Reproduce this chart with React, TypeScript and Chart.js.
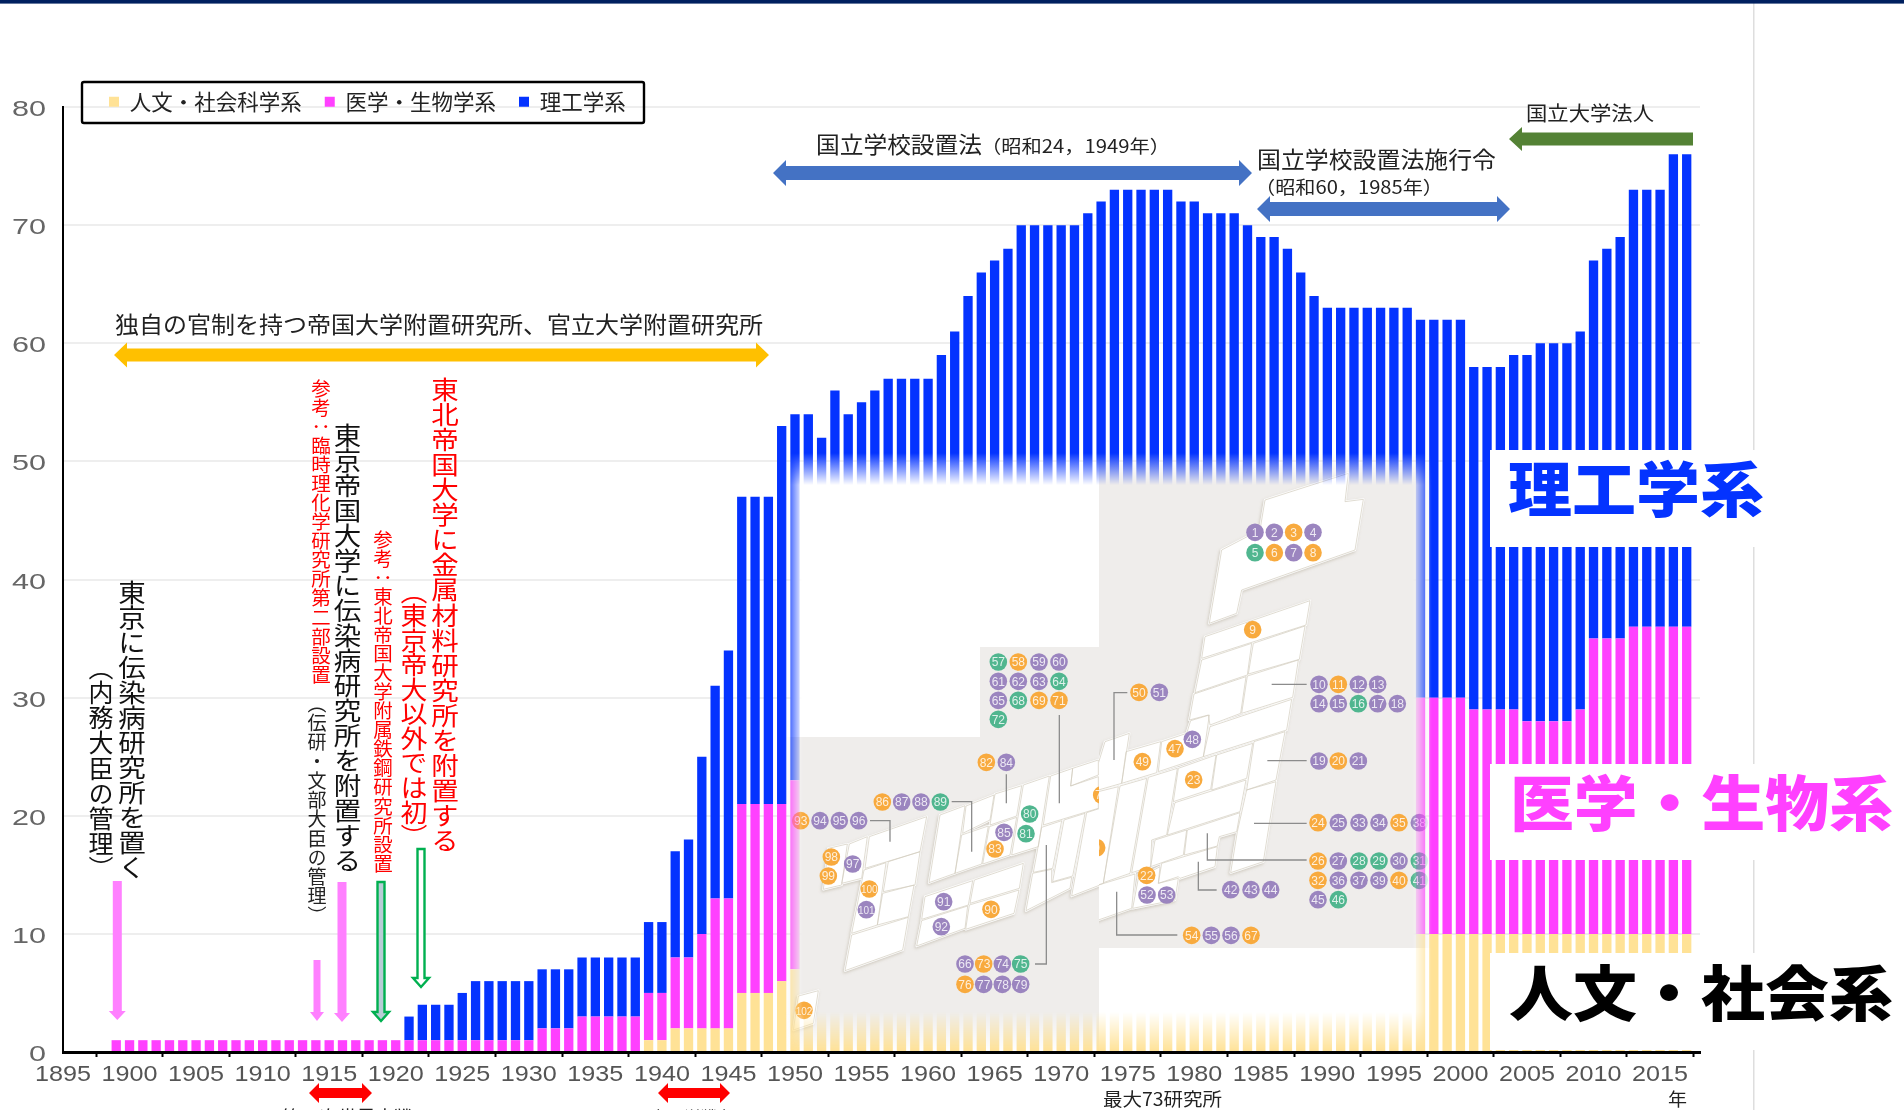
import React, { useEffect, useRef } from "react";
import { Chart, registerables } from "chart.js";

Chart.register(...registerables);

// ---- data (years 1895..2018; one value per year) ----
const years: string[] = Array.from({ length: 124 }, (_, i) => String(1895 + i));
const seriesNames = ["人文・社会科学系", "医学・生物学系", "理工学系"];
const seriesColors = ["#ffe296", "#ff40ff", "#0433ff"];

const humanities: number[] = [
  0, 0, 0, 0, 0, // 1895-99
  0, 0, 0, 0, 0, 0, 0, 0, 0, 0, // 1900-09
  0, 0, 0, 0, 0, 0, 0, 0, 0, 0, // 1910-19
  0, 0, 0, 0, 0, 0, 0, 0, 0, 0, // 1920-29
  0, 0, 0, 0, 0, 0, 0, 0, 0, 1, // 1930-39
  1, 2, 2, 2, 2, 2, 5, 5, 5, 6, // 1940-49
  7, 7, 7, 7, 7, 7, 7, 7, 8, 8, // 1950-59
  8, 8, 8, 8, 8, 8, 8, 8, 8, 8, // 1960-69
  9, 9, 9, 9, 9, 9, 9, 9, 9, 9, // 1970-79
  9, 9, 9, 9, 9, 9, 9, 9, 9, 9, // 1980-89
  9, 10, 10, 10, 10, 10, 10, 10, 10, 10, // 1990-99
  10, 10, 10, 10, 10, 10, 10, 10, 10, 10, // 2000-09
  10, 10, 10, 10, 10, 10, 10, 10, 0, // 2010-18
];
const medical: number[] = [
  0, 0, 0, 0, 1, // 1895-99
  1, 1, 1, 1, 1, 1, 1, 1, 1, 1, // 1900-09
  1, 1, 1, 1, 1, 1, 1, 1, 1, 1, // 1910-19
  1, 1, 1, 1, 1, 1, 1, 1, 1, 1, // 1920-29
  1, 2, 2, 2, 3, 3, 3, 3, 3, 4, // 1930-39
  4, 6, 6, 8, 11, 11, 16, 16, 16, 15, // 1940-49
  16, 16, 16, 16, 16, 17, 17, 17, 17, 17, // 1950-59
  17, 18, 18, 19, 19, 19, 20, 20, 21, 21, // 1960-69
  20, 20, 20, 21, 21, 21, 21, 21, 21, 21, // 1970-79
  21, 21, 21, 21, 21, 21, 21, 21, 21, 21, // 1980-89
  21, 20, 20, 20, 20, 20, 20, 20, 20, 20, // 1990-99
  20, 19, 19, 19, 19, 18, 18, 18, 18, 19, // 2000-09
  25, 25, 25, 26, 26, 26, 26, 26, 0, // 2010-18
];
const engineering: number[] = [
  0, 0, 0, 0, 0, // 1895-99
  0, 0, 0, 0, 0, 0, 0, 0, 0, 0, // 1900-09
  0, 0, 0, 0, 0, 0, 0, 0, 0, 0, // 1910-19
  0, 2, 3, 3, 3, 4, 5, 5, 5, 5, // 1920-29
  5, 5, 5, 5, 5, 5, 5, 5, 5, 6, // 1930-39
  6, 9, 10, 15, 18, 21, 26, 26, 26, 32, // 1940-49
  31, 31, 29, 33, 31, 31, 32, 33, 32, 32, // 1950-59
  32, 33, 35, 37, 39, 40, 40, 42, 41, 41, // 1960-69
  41, 41, 42, 42, 43, 43, 43, 43, 43, 42, // 1970-79
  42, 41, 41, 41, 40, 39, 39, 38, 36, 34, // 1980-89
  33, 33, 33, 33, 33, 33, 33, 32, 32, 32, // 1990-99
  32, 29, 29, 29, 30, 31, 32, 32, 32, 32, // 2000-09
  32, 33, 34, 37, 37, 37, 40, 40, 0, // 2010-18
];

const yMax = 80;
const yStep = 10;
const tickEvery = 5;

// ---- fonts ----
const CJK = "'Noto Sans CJK JP', sans-serif";
const LATIN = "'Liberation Sans', Arial, sans-serif";

// ---- decoration helpers (annotation shapes & the map picture over the chart) ----
const pts = (a: number[][]) => a.map((p) => p.join(",")).join(" ");
function hArrow(x1: number, x2: number, cy: number, shaft: number, head: number, len: number, right = true, left = true) {
  const s = shaft / 2, h = head / 2;
  const a: number[][] = [];
  if (left) a.push([x1, cy], [x1 + len, cy - h], [x1 + len, cy - s]);
  else a.push([x1, cy - s]);
  if (right) a.push([x2 - len, cy - s], [x2 - len, cy - h], [x2, cy], [x2 - len, cy + h], [x2 - len, cy + s]);
  else a.push([x2, cy - s], [x2, cy + s]);
  if (left) a.push([x1 + len, cy + s], [x1 + len, cy + h]);
  else a.push([x1, cy + s]);
  return pts(a);
}
function vArrow(cx: number, y1: number, y2: number, shaft: number, head: number, len: number) {
  const s = shaft / 2, h = head / 2;
  return pts([[cx - s, y1], [cx + s, y1], [cx + s, y2 - len], [cx + h, y2 - len], [cx, y2], [cx - h, y2 - len], [cx - s, y2 - len]]);
}

const Z6 = (a: number[]) => pts(a.reduce((o: number[][], v, i) => { if (i % 2 === 0) o.push([790 + v / 3, 640 + a[i + 1] / 3]); return o; }, []));
const Z7 = (a: number[]) => pts(a.reduce((o: number[][], v, i) => { if (i % 2 === 0) o.push([1090 + v / 3, 470 + a[i + 1] / 3]); return o; }, []));

const islandsLeft: number[][] = [
  [115, 625, 172, 612, 155, 735, 100, 748],
  [178, 612, 232, 590, 215, 715, 155, 730],
  [238, 590, 410, 530, 390, 635, 225, 685],
  [222, 690, 288, 668, 262, 855, 185, 880],
  [295, 665, 390, 635, 375, 735, 280, 755],
  [278, 760, 372, 735, 355, 830, 262, 855],
  [185, 885, 355, 832, 338, 930, 165, 992],
  [405, 770, 548, 722, 535, 795, 395, 838],
  [395, 842, 533, 798, 525, 865, 380, 918],
  [553, 720, 700, 670, 688, 745, 540, 790],
  [538, 795, 687, 750, 672, 820, 527, 868],
  [450, 525, 525, 497, 495, 700, 417, 728],
  [528, 498, 612, 465, 600, 540, 518, 580],
  [515, 585, 595, 558, 575, 672, 495, 700],
  [615, 462, 695, 437, 680, 528, 600, 555],
  [598, 560, 680, 532, 660, 645, 578, 672],
  [700, 435, 778, 408, 745, 620, 665, 645],
  [782, 408, 848, 385, 842, 438, 925, 410, 925, 505, 760, 555],
  [848, 385, 925, 360, 925, 405, 842, 438],
  [755, 562, 815, 542, 788, 685, 730, 697],
  [822, 540, 885, 520, 848, 708, 788, 725],
  [890, 518, 930, 505, 930, 735, 845, 768],
  [728, 700, 785, 688, 785, 728, 845, 712, 840, 745, 708, 812],
  [25, 1068, 85, 1052, 70, 1150, 10, 1170],
];
const islandsRight: number[][] = [
  [525, 90, 775, 10, 765, 95, 820, 88, 795, 240, 455, 360, 440, 430, 358, 460, 395, 240, 510, 180],
  [345, 500, 660, 392, 648, 465, 335, 565],
  [335, 570, 485, 520, 472, 615, 315, 668],
  [490, 520, 645, 468, 628, 568, 475, 612],
  [312, 672, 468, 620, 452, 730, 360, 765, 355, 735, 298, 750],
  [472, 618, 625, 570, 608, 682, 455, 730],
  [360, 770, 605, 688, 590, 780, 340, 860],
  [492, 815, 585, 785, 558, 930, 470, 960],
  [380, 855, 488, 820, 470, 925, 365, 960],
  [265, 895, 378, 855, 362, 958, 250, 995],
  [302, 752, 358, 735, 340, 860, 205, 905, 215, 815, 290, 790],
  [108, 845, 212, 815, 200, 908, 95, 940],
  [45, 815, 118, 790, 95, 940, 25, 960, 25, 880],
  [25, 965, 85, 950, 40, 1240, 25, 1245],
  [90, 948, 170, 925, 120, 1210, 40, 1238],
  [175, 922, 262, 895, 230, 1095, 185, 1110, 182, 1190, 125, 1208],
  [255, 998, 468, 930, 450, 1025, 232, 1095],
  [470, 960, 558, 935, 520, 1175, 422, 1208, 442, 1085],
  [292, 1080, 450, 1028, 440, 1085, 388, 1100, 382, 1128, 283, 1155],
  [195, 1110, 290, 1080, 280, 1155, 182, 1190],
  [215, 1180, 382, 1130, 375, 1190, 270, 1225, 265, 1220, 205, 1240],
  [145, 1225, 210, 1190, 205, 1240, 265, 1225, 255, 1290, 128, 1315],
  [25, 1245, 135, 1212, 125, 1315, 25, 1350],
];
const leadersLeft: number[][] = [
  [808, 225, 808, 490],
  [649, 403, 649, 490],
  [485, 485, 545, 485, 545, 635],
  [240, 542, 300, 542, 300, 605],
  [735, 972, 769, 972, 769, 615],
];
const leadersRight: number[][] = [
  [545, 643, 650, 643],
  [532, 872, 650, 872],
  [492, 1060, 650, 1060],
  [352, 1090, 352, 1170, 650, 1170],
  [325, 1175, 325, 1260, 380, 1260],
  [80, 1265, 80, 1395, 262, 1395],
  [72, 870, 72, 668, 112, 668],
];
const P = "#9b85bf", O = "#f8aa3e", G = "#50b68f";
type Dot = [string, number, number, string];
const dotsLeft: Dot[] = [
  ["57", 625, 66, G], ["58", 685, 66, O], ["59", 747, 66, P], ["60", 807, 66, P],
  ["61", 625, 124, P], ["62", 685, 124, P], ["63", 747, 124, P], ["64", 807, 124, G],
  ["65", 625, 181, P], ["68", 685, 181, G], ["69", 747, 181, O], ["71", 807, 181, O], ["72", 625, 238, G],
  ["82", 589, 367, O], ["84", 649, 367, P],
  ["86", 277, 486, O], ["87", 335, 486, P], ["88", 393, 486, P], ["89", 451, 486, G],
  ["93", 32, 542, O], ["94", 90, 542, P], ["95", 148, 542, P], ["96", 206, 542, P],
  ["98", 124, 651, O], ["99", 115, 708, O], ["97", 188, 672, P], ["100", 238, 747, O], ["101", 229, 809, P],
  ["91", 461, 785, P], ["92", 454, 860, P], ["90", 603, 808, O],
  ["80", 719, 522, G], ["81", 708, 581, G], ["85", 642, 577, P], ["83", 615, 627, O],
  ["66", 525, 972, P], ["73", 581, 972, O], ["74", 637, 972, P], ["75", 692, 972, G],
  ["76", 525, 1033, O], ["77", 581, 1033, P], ["78", 637, 1033, P], ["79", 692, 1033, P],
  ["102", 42, 1111, O], ["70", 935, 465, O],
];
const dotsRight: Dot[] = [
  ["1", 495, 187, P], ["2", 553, 187, P], ["3", 611, 187, O], ["4", 669, 187, P],
  ["5", 495, 248, G], ["6", 553, 248, O], ["7", 611, 248, P], ["8", 669, 248, O], ["9", 488, 479, O],
  ["10", 687, 643, P], ["11", 745, 643, O], ["12", 805, 643, P], ["13", 863, 643, P],
  ["14", 687, 701, P], ["15", 745, 701, P], ["16", 805, 701, G], ["17", 863, 701, P], ["18", 922, 701, P],
  ["19", 687, 873, P], ["20", 745, 873, O], ["21", 805, 873, P],
  ["24", 684, 1058, O], ["25", 745, 1058, P], ["33", 807, 1058, P], ["34", 867, 1058, P], ["35", 927, 1058, O], ["38", 988, 1058, P],
  ["26", 684, 1173, O], ["27", 745, 1173, P], ["28", 807, 1173, G], ["29", 867, 1173, G], ["30", 927, 1173, P], ["31", 988, 1173, G],
  ["32", 684, 1231, O], ["36", 745, 1231, P], ["37", 807, 1231, P], ["39", 867, 1231, P], ["40", 927, 1231, O], ["41", 988, 1231, G],
  ["45", 684, 1289, P], ["46", 745, 1289, G],
  ["23", 311, 929, O], ["47", 255, 836, O], ["48", 307, 808, P], ["49", 157, 875, O], ["50", 147, 667, O], ["51", 208, 667, P],
  ["22", 170, 1216, O], ["52", 171, 1275, P], ["53", 230, 1275, P],
  ["42", 422, 1259, P], ["43", 483, 1259, P], ["44", 542, 1259, P],
  ["54", 305, 1396, O], ["55", 364, 1396, P], ["56", 423, 1396, P], ["67", 483, 1396, O],
  ["0", 20, 1133, O],
];

function Dots({ list, ox, oy }: { list: Dot[]; ox: number; oy: number }) {
  return (
    <g>
      {list.map(([n, X, Y, c]) => (
        <g key={n + X}>
          <circle cx={ox + X / 3} cy={oy + Y / 3} r={8.8} fill={c} />
          <text x={ox + X / 3} y={oy + Y / 3 + 4.2} textAnchor="middle" fontSize={n.length > 2 ? 10 : 12} fontFamily={LATIN} fill="#fff" fillOpacity={0.82}>{n}</text>
        </g>
      ))}
    </g>
  );
}

function VText({ x, y, len, size, fill, children }: { x: number; y: number; len: number; size: number; fill: string; children: string }) {
  return (
    <text x={x} y={y} textLength={len} lengthAdjust="spacingAndGlyphs" fontSize={size} fontFamily={CJK} fill={fill}
      style={{ writingMode: "vertical-rl" as any }}>{children}</text>
  );
}
function HText({ x, y, len, size, fill = "#222", weight = 400, children }: { x: number; y: number; len: number; size: number; fill?: string; weight?: number; children: string }) {
  return (
    <text x={x} y={y} textLength={len} lengthAdjust="spacingAndGlyphs" fontSize={size} fontWeight={weight} fontFamily={CJK} fill={fill}>{children}</text>
  );
}

function Overlay() {
  return (
    <svg width={1904} height={1110} viewBox="0 0 1904 1110" style={{ position: "absolute", left: 0, top: 0, pointerEvents: "none" }}>
      <defs>
        <linearGradient id="gh" gradientUnits="userSpaceOnUse" x1={785} x2={1432} y1={0} y2={0}>
          <stop offset={0} stopColor="#fff" stopOpacity={0} />
          <stop offset={0.0278} stopColor="#fff" />
          <stop offset={0.969} stopColor="#fff" />
          <stop offset={1} stopColor="#fff" stopOpacity={0} />
        </linearGradient>
        <linearGradient id="gv" gradientUnits="userSpaceOnUse" x1={0} x2={0} y1={453} y2={1052}>
          <stop offset={0} stopColor="#fff" stopOpacity={0} />
          <stop offset={0.0534} stopColor="#fff" />
          <stop offset={0.933} stopColor="#fff" />
          <stop offset={1} stopColor="#fff" stopOpacity={0} />
        </linearGradient>
        <mask id="mh" maskUnits="userSpaceOnUse" x={780} y={450} width={670} height={610}><rect x={780} y={450} width={670} height={610} fill="url(#gh)" /></mask>
        <mask id="mv" maskUnits="userSpaceOnUse" x={780} y={450} width={670} height={610}><rect x={780} y={450} width={670} height={610} fill="url(#gv)" /></mask>
        <clipPath id="cl"><rect x={780} y={450} width={319} height={610} /></clipPath>
        <clipPath id="cr"><rect x={1099} y={450} width={340} height={610} /></clipPath>
        <filter id="sh" x="-10%" y="-10%" width="120%" height="120%"><feDropShadow dx={-1} dy={1.5} stdDeviation={1.6} floodColor="#9a8f75" floodOpacity={0.4} /></filter>
      </defs>

      {/* vertical page rule and top band */}
      <rect x={1753} y={0} width={1.5} height={1110} fill="#dedede" />
      <rect x={0} y={0} width={1904} height={3.6} fill="#00205f" />

      {/* map picture fading over the bars */}
      <g mask="url(#mh)">
        <g mask="url(#mv)">
          <rect x={780} y={450} width={670} height={610} fill="#fff" />
          <polygon points="780,737 980,737 980,647 1099,647 1099,1060 780,1060" fill="#efedeb" />
          <rect x={1099} y={450} width={340} height={498} fill="#efedeb" />
          <g clipPath="url(#cl)">
            <g filter="url(#sh)">
              {islandsLeft.map((p, i) => <polygon key={i} points={Z6(p)} fill="#fff" stroke="#fff" strokeWidth={2.2} strokeLinejoin="round" />)}
            </g>
            {islandsLeft.map((p, i) => <polygon key={i} points={Z6(p)} fill="none" stroke="#d3cdbf" strokeWidth={0.7} />)}
            {leadersLeft.map((p, i) => <polyline key={i} points={Z6(p)} fill="none" stroke="#8c8c8c" strokeWidth={1.3} />)}
            <Dots list={dotsLeft} ox={790} oy={640} />
          </g>
          <g clipPath="url(#cr)">
            <g filter="url(#sh)">
              {islandsRight.map((p, i) => <polygon key={i} points={Z7(p)} fill="#fff" stroke="#fff" strokeWidth={2.2} strokeLinejoin="round" />)}
            </g>
            {islandsRight.map((p, i) => <polygon key={i} points={Z7(p)} fill="none" stroke="#d3cdbf" strokeWidth={0.7} />)}
            {leadersRight.map((p, i) => <polyline key={i} points={Z7(p)} fill="none" stroke="#8c8c8c" strokeWidth={1.3} />)}
            <Dots list={dotsRight} ox={1090} oy={470} />
          </g>
        </g>
      </g>

      {/* white label panels with the big category names */}
      <rect x={1490} y={450} width={414} height={97} fill="#fff" />
      <rect x={1490} y={764} width={414} height={96} fill="#fff" />
      <rect x={1490} y={953} width={414} height={97} fill="#fff" />
      <HText x={1508} y={512} len={256} size={60} weight={900} fill="#0433ff">理工学系</HText>
      <HText x={1510} y={826} len={383} size={60} weight={900} fill="#ff40ff">医学・生物系</HText>
      <HText x={1509} y={1016} len={384} size={60} weight={900} fill="#000">人文・社会系</HText>

      {/* legend frame */}
      <rect x={82} y={82} width={562} height={41} rx={2} fill="none" stroke="#000" strokeWidth={2.4} />

      {/* horizontal arrows */}
      <polygon points={hArrow(114, 769, 355, 13, 25, 13)} fill="#ffc000" />
      <polygon points={hArrow(773, 1252, 173, 14, 26, 13)} fill="#4472c4" />
      <polygon points={hArrow(1257, 1510, 209, 14, 26, 13)} fill="#4472c4" />
      <polygon points={hArrow(1509, 1693, 139, 13, 24, 13, false, true)} fill="#548235" />
      <polygon points={hArrow(309, 372, 1093, 10, 20, 10)} fill="#ff0000" />
      <polygon points={hArrow(658, 730, 1093, 10, 20, 10)} fill="#ff0000" />

      {/* vertical arrows */}
      <polygon points={vArrow(117.3, 881, 1020, 9, 17, 9)} fill="#ff80ff" />
      <polygon points={vArrow(317, 960, 1021, 7, 14, 9)} fill="#ff80ff" />
      <polygon points={vArrow(342, 882, 1022, 9, 16, 9)} fill="#ff80ff" />
      <polygon points={vArrow(381, 882, 1021, 7, 16, 9)} fill="#b8cdd6" stroke="#00b050" strokeWidth={2.4} />
      <polygon points={vArrow(421, 849, 987, 7, 16, 9)} fill="#fff" stroke="#00b050" strokeWidth={2.4} />

      {/* horizontal annotations */}
      <HText x={115} y={333} len={648} size={23}>独自の官制を持つ帝国大学附置研究所、官立大学附置研究所</HText>
      <HText x={816} y={153} len={166} size={23}>国立学校設置法</HText>
      <HText x={981} y={153} len={189} size={18}>（昭和24，1949年）</HText>
      <HText x={1257} y={168} len={239} size={23}>国立学校設置法施行令</HText>
      <HText x={1255} y={194} len={188} size={18}>（昭和60，1985年）</HText>
      <HText x={1526} y={121} len={128} size={20}>国立大学法人</HText>
      <HText x={282} y={1124} len={131} size={18}>第一次世界大戦</HText>
      <HText x={650} y={1124} len={85} size={17}>太平洋戦争</HText>
      <HText x={1103} y={1106} len={119} size={18}>最大73研究所</HText>
      <HText x={1668} y={1106} len={19} size={18}>年</HText>

      {/* vertical annotations */}
      <VText x={132} y={580} len={300} size={27.5} fill="#111">東京に伝染病研究所を置く</VText>
      <VText x={101} y={655} len={226} size={25} fill="#111">（内務大臣の管理）</VText>
      <VText x={347.5} y={423} len={450} size={27.5} fill="#111">東京帝国大学に伝染病研究所を附置する</VText>
      <VText x={317} y={694} len={231} size={19} fill="#222">（伝研・文部大臣の管理）</VText>
      <VText x={321} y={379} len={305} size={19.5} fill="#ff0000">参考：臨時理化学研究所第二部設置</VText>
      <VText x={383} y={530} len={343} size={19.5} fill="#ff0000">参考：東北帝国大学附属鉄鋼研究所設置</VText>
      <VText x={445} y={377} len={476} size={27.5} fill="#ff0000">東北帝国大学に金属材料研究所を附置する</VText>
      <VText x={414} y={579} len={270} size={27} fill="#ff0000">（東京帝大以外では初）</VText>
    </svg>
  );
}

// Tick labels in the reference are horizontally stretched; draw the scale's own label items with an x-stretch.
function stretchLabels(scale: any, k: number, baseline: (y: number) => number) {
  scale.drawLabels = function () {
    const ctx = this.ctx;
    const area = this.chart.chartArea;
    for (const item of this.getLabelItems(area)) {
      const [tx, ty] = item.options.translation;
      ctx.save();
      ctx.translate(tx, baseline(ty));
      ctx.scale(k, 1);
      ctx.font = item.font.string;
      ctx.fillStyle = item.options.color;
      ctx.textAlign = item.options.textAlign;
      ctx.textBaseline = "alphabetic";
      ctx.fillText(String(item.label), 0, 0);
      ctx.restore();
    }
  };
}

const layoutTweaks = {
  id: "layoutTweaks",
  beforeInit(chart: any) {
    const fit = chart.legend.fit;
    chart.legend.fit = function () {
      fit.call(this);
      this.height = 0;
    };
  },
  afterLayout(chart: any) {
    const l = chart.legend;
    l.left = 86;
    l.right = 1000;
    l.top = 68;
    l.bottom = 130;
    l.width = 914;
    l.height = 62;
  },
  beforeDraw(chart: any) {
    stretchLabels(chart.scales.x, 1.145, () => 1081);
    stretchLabels(chart.scales.y, 1.39, (y: number) => y + 9);
  },
};

export default function App() {
  const ref = useRef<HTMLCanvasElement>(null);
  useEffect(() => {
    const chart = new Chart(ref.current as HTMLCanvasElement, {
      type: "bar",
      data: {
        labels: years,
        datasets: [humanities, medical, engineering].map((data, i) => ({
          label: seriesNames[i],
          data,
          backgroundColor: seriesColors[i],
          borderWidth: 0,
          barPercentage: 0.7,
          categoryPercentage: 1,
          stack: "all",
        })),
      },
      options: {
        animation: false,
        responsive: false,
        devicePixelRatio: 1,
        layout: { padding: { top: 107, right: 204, left: 0, bottom: 0 } },
        plugins: {
          tooltip: { enabled: false },
          legend: {
            position: "top",
            align: "start",
            labels: {
              boxWidth: 10,
              boxHeight: 10,
              padding: 23,
              color: "#222",
              font: { family: CJK, size: 21.5 },
            },
          },
        },
        scales: {
          x: {
            stacked: true,
            offset: false,
            afterBuildTicks: (s: any) => {
              s.ticks = s.ticks.filter((t: any) => t.value % tickEvery === 0);
            },
            afterFit: (s: any) => { s.height = 58; },
            grid: { drawOnChartArea: false, drawTicks: true, tickLength: 5, tickWidth: 2, tickColor: "#000", color: "#000" },
            border: { display: true, color: "#000", width: 3 },
            ticks: {
              autoSkip: false,
              maxRotation: 0,
              minRotation: 0,
              padding: 6,
              color: "#555555",
              font: { family: LATIN, size: 22 },
            },
          },
          y: {
            stacked: true,
            min: 0,
            max: yMax,
            afterFit: (s: any) => { s.width = 63; },
            grid: { color: "#eeeeee", lineWidth: 2, drawTicks: false },
            border: { display: true, color: "#000", width: 2 },
            ticks: {
              stepSize: yStep,
              padding: 17,
              color: "#666666",
              font: { family: LATIN, size: 22 },
            },
          },
        },
      },
      plugins: [layoutTweaks],
    } as any);
    return () => chart.destroy();
  }, []);
  return (
    <div style={{ position: "absolute", left: 0, top: 0, width: 1904, height: 1110, overflow: "hidden", background: "#fff" }}>
      <canvas ref={ref} width={1904} height={1110} style={{ display: "block", width: 1904, height: 1110 }} />
      <Overlay />
    </div>
  );
}
